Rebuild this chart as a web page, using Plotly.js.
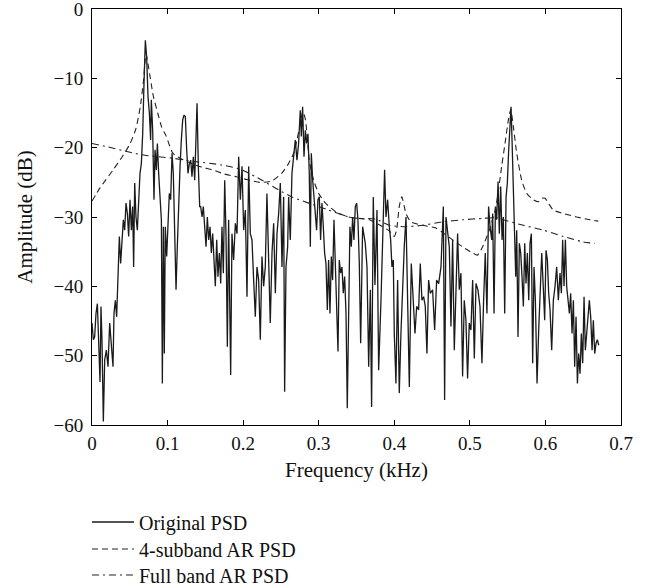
<!DOCTYPE html>
<html>
<head>
<meta charset="utf-8">
<script src="https://cdn.plot.ly/plotly-3.0.1.min.js"></script>
<style>html,body{margin:0;padding:0;background:#fff;}#chart{width:650px;height:588px;}</style>
</head>
<body>
<div id="chart"></div>
<script>
// Original PSD (frequency in kHz, amplitude in dB)
var origFreq = [
0,.0018,.0035,.0053,.0071,.0088,.0106,.0119,.0132,.0150,
.0168,.0190,.0212,.0234,.0256,.0278,.0291,.0309,.0326,.0344,
.0362,.0379,.0397,.0415,.0432,.0450,.0468,.0485,.0503,.0521,
.0538,.0551,.0565,.0582,.0600,.0618,.0635,.0653,.0671,.0688,
.0706,.0723,.0741,.0759,.0776,.0785,.0803,.0820,.0834,.0851,
.0865,.0882,.0900,.0918,.0931,.0944,.0957,.0970,.0988,.1006,
.1023,.1041,.1059,.1076,.1094,.1112,.1129,.1147,.1165,.1182,
.1200,.1217,.1235,.1253,.1270,.1288,.1306,.1323,.1341,.1359,
.1376,.1390,.1407,.1425,.1438,.1456,.1473,.1491,.1509,.1526,
.1544,.1562,.1579,.1597,.1614,.1632,.1650,.1667,.1685,.1703,
.1720,.1738,.1756,.1773,.1791,
.1808,.1835,.1852,.1874,.1897,.1919,.1941,.1963,.1985,.2007,
.2029,.2051,.2073,.2095,.2117,.2139,.2161,.2183,.2205,.2227,
.2249,.2271,.2293,.2315,.2337,.2359,.2382,.2404,.2426,.2448,
.2470,.2492,.2514,.2536,.2549,.2567,.2589,.2602,.2624,.2646,
.2668,.2690,.2712,.2734,.2756,.2770,.2787,.2805,.2823,.2840,
.2858,.2875,.2889,.2902,.2920,.2937,.2955,.2972,.2990,.3008,
.3025,.3043,.3061,.3078,.3096,.3114,.3131,.3149,.3167,.3184,
.3202,.3219,.3237,.3255,.3272,.3290,.3308,.3325,.3343,.3361,
.3378,.3396,.3413,.3431,.3449,.3466,.3484,.3502,.3519,.3537,
.3555,
.3581,.3616,.3639,.3661,.3683,.3700,.3722,.3744,.3771,.3793,
.3824,.3846,.3872,.3890,.3912,.3934,.3952,.3969,.3987,.4000,
.4022,.4044,.4066,.4088,.4110,.4132,.4155,.4177,.4199,.4225,
.4252,.4274,.4296,.4322,.4344,.4366,.4388,.4410,.4432,.4454,
.4476,.4507,.4534,.4560,.4587,.4618,.4649,.4666,.4684,.4710,
.4728,.4750,.4772,.4794,.4816,.4838,.4860,.4882,.4904,.4926,
.4948,.4970,.4992,.5014,.5037,.5059,.5081,.5107,.5134,.5160,
.5182,.5204,.5226,.5248,
.5267,.5289,.5302,.5320,.5338,.5355,.5373,.5390,.5408,.5426,
.5443,.5461,.5479,.5496,.5514,.5532,.5545,.5558,.5576,.5593,
.5607,.5620,.5637,.5655,.5673,.5690,.5708,.5726,.5743,.5761,
.5779,.5796,.5814,.5831,.5849,.5867,.5889,.5911,.5929,.5951,
.5973,.5990,.6008,.6026,.6043,.6061,.6083,.6105,.6127,.6149,
.6171,.6193,.6211,.6228,.6246,.6264,.6281,.6299,.6317,.6334,
.6352,.6370,.6387,.6405,.6423,.6440,.6458,.6475,.6493,.6511,
.6528,.6546,.6564,.6581,.6599,.6617,.6634,.6652,.6670,.6687,
.6705
];
var origAmp = [
-45.3,-47.7,-47.3,-43.9,-42.5,-46.8,-53.8,-42.9,-47.7,-59.5,
-50.6,-49.2,-51.6,-45.3,-48.7,-51.6,-43.9,-42.0,-44.4,-37.2,
-32.8,-36.7,-33.3,-30.4,-31.9,-28.0,-29.5,-32.8,-27.5,-31.9,
-28.5,-37.2,-25.1,-30.0,-31.9,-26.6,-23.7,-22.3,-17.9,-10.7,
-4.5,-6.9,-12.6,-15.0,-18.9,-13.1,-17.5,-27.5,-20.3,-23.2,
-19.4,-23.7,-26.6,-30.4,-54.0,-31.4,-49.7,-31.4,-35.7,-29.5,
-26.6,-27.5,-20.8,-23.7,-33.3,-40.5,-34.3,-27.1,-22.7,-18.9,
-16.0,-15.3,-15.5,-20.3,-23.7,-22.3,-21.8,-24.2,-21.3,-24.7,
-18.9,-13.6,-22.7,-28.5,-28.5,-30.0,-28.5,-32.4,-34.3,-30.0,
-33.3,-31.4,-35.2,-32.4,-36.7,-40.0,-33.3,-38.6,-35.2,-39.6,
-31.4,-38.1,-24.7,-32.4,-48.7,
-30.4,-52.8,-32.4,-36.2,-30.9,-32.4,-21.3,-27.5,-22.7,-31.9,
-29.0,-41.5,-22.7,-32.4,-33.3,-39.1,-44.4,-37.2,-39.1,-47.7,
-35.7,-40.0,-37.2,-26.6,-37.2,-45.3,-35.2,-30.9,-41.0,-32.4,
-29.5,-25.1,-37.2,-27.1,-55.2,-37.2,-34.3,-27.1,-33.3,-23.7,
-21.3,-18.9,-21.8,-19.4,-14.6,-18.4,-14.1,-21.3,-17.5,-19.4,
-18.0,-23.7,-34.3,-20.8,-24.7,-27.5,-29.5,-31.9,-27.5,-27.1,
-33.3,-28.0,-31.4,-35.2,-36.7,-43.4,-36.2,-43.9,-35.7,-39.1,
-30.4,-37.2,-40.5,-49.4,-36.2,-38.1,-37.2,-41.0,-38.6,-43.9,
-57.6,-44.9,-31.4,-34.3,-30.0,-33.3,-28.5,-28.0,-30.4,-36.7,
-48.2,
-31.4,-33.8,-37.2,-51.6,-40.5,-57.4,-27.1,-39.8,-29.0,-52.1,
-42.0,-34.3,-23.2,-30.0,-27.5,-31.4,-33.3,-37.2,-36.2,-46.8,
-54.0,-39.1,-55.4,-46.8,-39.6,-34.3,-30.0,-44.9,-54.5,-36.7,
-42.0,-46.8,-42.9,-43.4,-36.7,-42.0,-41.5,-42.9,-49.7,-39.1,
-41.0,-40.5,-46.3,-39.1,-39.6,-37.2,-28.5,-56.4,-30.0,-32.4,
-34.3,-45.8,-33.3,-49.2,-38.6,-32.4,-40.5,-38.1,-53.0,-42.0,
-44.9,-53.3,-45.3,-46.3,-39.1,-50.4,-39.6,-40.5,-42.9,-51.1,
-42.0,-35.2,-43.9,-28.5,
-31.4,-33.3,-29.5,-43.9,-28.5,-30.4,-24.9,-32.4,-25.6,-33.3,
-30.0,-43.9,-27.1,-25.1,-20.3,-15.0,-14.1,-18.9,-25.6,-32.4,
-38.6,-31.9,-47.3,-33.8,-35.2,-38.6,-42.9,-33.8,-39.6,-35.2,
-42.0,-33.8,-32.4,-51.1,-37.2,-42.0,-54.0,-46.3,-40.5,-35.2,
-40.5,-44.9,-34.8,-36.2,-41.0,-43.4,-49.2,-42.0,-40.0,-37.2,
-42.0,-38.1,-41.0,-33.3,-40.0,-33.3,-40.0,-42.0,-43.9,-41.0,
-46.8,-42.0,-51.6,-44.4,-54.0,-49.7,-52.6,-46.8,-51.1,-41.5,
-49.2,-46.8,-43.9,-42.0,-44.4,-49.2,-44.9,-49.7,-48.2,-47.7,
-48.5
];

// 4-subband AR PSD
var subFreq = [
0,.0106,.028,.04,.05,.058,.064,.068,.0715,.075,
.081,.087,.092,.098,.107,.118,.130,.145,.160,.175,
.191,.205,.222,.238,.251,.260,.2668,.2712,.2756,.279,
.2825,.2875,.2933,.300,.309,.322,.3396,.3528,.367,.3846,
.3934,.400,.403,.4066,.410,.4155,.422,.4375,.455,.466,
.4772,.4904,.5037,.510,.5169,.5257,.5345,.5421,.5465,.551,
.5541,.5576,.562,.5686,.5752,.584,.5906,.5951,.5995,.6039,
.6105,.6237,.6414,.659,.670
];
var subAmp = [
-27.7,-25.8,-23.2,-21.3,-19.5,-17.3,-14.0,-10.5,-6.5,-8.5,
-12.5,-15.0,-17.0,-18.3,-20.8,-21.6,-22.2,-22.8,-23.2,-23.8,
-24.2,-24.6,-25.0,-24.8,-23.7,-22.3,-20.8,-18.9,-16.5,-14.8,
-16.0,-21.8,-24.7,-26.6,-28.0,-29.2,-30.0,-30.2,-30.4,-31.4,
-32.0,-32.8,-31.9,-28.5,-27.1,-29.5,-30.7,-31.2,-31.6,-32.4,
-33.3,-34.3,-35.2,-35.5,-34.3,-31.9,-28.5,-22.7,-19.4,-16.0,
-14.5,-17.0,-20.8,-24.7,-26.6,-27.5,-27.8,-27.3,-27.3,-28.0,
-29.0,-29.5,-30.0,-30.4,-30.6
];

// Full band AR PSD
var fullFreq = [
0,.0212,.0476,.07,.105,.136,.172,.1985,.225,.247,
.2646,.2867,.3131,.3396,.3528,.3758,.3934,.4155,.4375,.464,
.4904,.5169,.5345,.5443,.5708,.5973,.6237,.650,.6656
];
var fullAmp = [
-19.4,-19.9,-20.6,-21.1,-21.5,-22.0,-22.5,-23.2,-24.7,-26.1,
-27.1,-28.0,-29.0,-30.0,-30.2,-30.3,-31.2,-31.4,-31.2,-30.7,
-30.4,-30.2,-30.1,-30.4,-31.2,-31.9,-32.8,-33.6,-33.8
];

var seriesNames = ["Original PSD", "4-subband AR PSD", "Full band AR PSD"];

var FONT = "Liberation Serif, Times New Roman, serif";
var INK = "#111";

var traces = [
  {x: origFreq, y: origAmp, name: seriesNames[0], mode: "lines", legend: "legend",
   line: {color: "#1a1a1a", width: 1.3}},
  {x: subFreq, y: subAmp, name: seriesNames[1], mode: "lines", legend: "legend2",
   line: {color: "#222", width: 1.1, dash: "6px,4px", shape: "spline", smoothing: 0.6}},
  {x: fullFreq, y: fullAmp, name: seriesNames[2], mode: "lines", legend: "legend3",
   line: {color: "#222", width: 1.1, dash: "7px,4px,2px,4px", shape: "spline", smoothing: 0.6}}
];

var axisCommon = {
  showgrid: false, zeroline: false, showline: true, linecolor: "#000", linewidth: 1,
  ticks: "inside", ticklen: 5, tickwidth: 1, tickcolor: "#000", mirror: "ticks",
  ticklabeloverflow: "allow",
  tickfont: {family: FONT, size: 19, color: INK}
};

function legendAt(yPaper) {
  return {x: -0.0095, y: yPaper, xanchor: "left", yanchor: "middle",
          itemwidth: 42, font: {family: FONT, size: 20, color: INK},
          bgcolor: "rgba(0,0,0,0)", borderwidth: 0};
}

var layout = {
  width: 650, height: 588,
  margin: {l: 92, r: 29, t: 9, b: 163, autoexpand: false},
  paper_bgcolor: "#fff", plot_bgcolor: "#fff",
  font: {family: FONT, size: 19, color: INK},
  showlegend: true,
  legend: legendAt(-0.2332),
  legend2: legendAt(-0.2981),
  legend3: legendAt(-0.3606),
  xaxis: Object.assign({}, axisCommon, {
    range: [0, 0.7], tick0: 0, dtick: 0.1, ticklabelstandoff: 1,
    title: {text: "Frequency (kHz)", font: {family: FONT, size: 21, color: INK}, standoff: 9}
  }),
  yaxis: Object.assign({}, axisCommon, {
    range: [-60, 0], tick0: 0, dtick: 10, ticklabelstandoff: 4,
    title: {text: "Amplitude (dB)", font: {family: FONT, size: 21, color: INK}, standoff: 15}
  })
};

Plotly.newPlot("chart", traces, layout, {displayModeBar: false, staticPlot: true});
</script>
</body>
</html>
